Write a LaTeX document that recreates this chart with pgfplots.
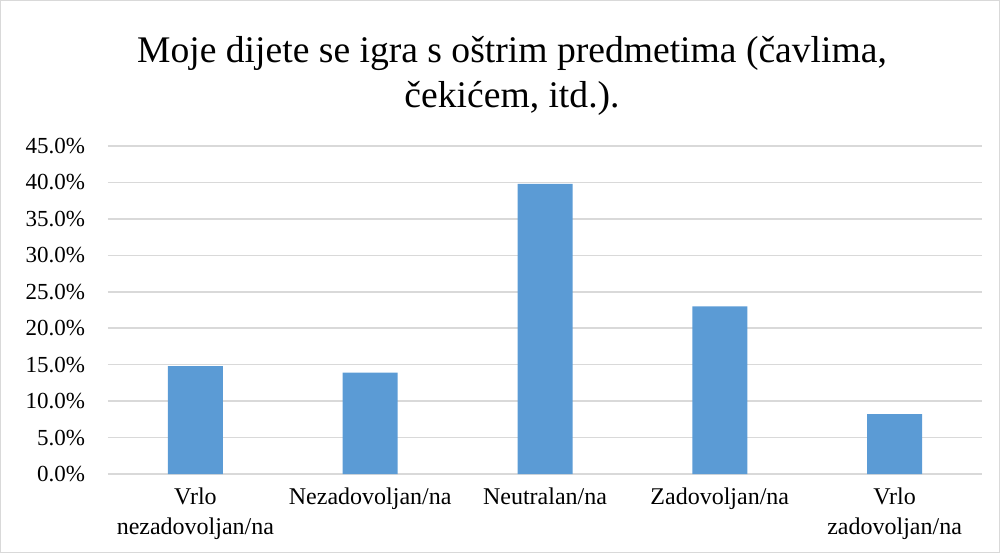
\documentclass[border=0pt]{standalone}
\usepackage{fontspec}
\setmainfont{Liberation Serif}
\usepackage{pgfplots}
\pgfplotsset{compat=1.18}
\definecolor{barblue}{RGB}{91,155,213}
\definecolor{gridgray}{RGB}{217,217,217}
\begin{document}
\begin{tikzpicture}
\draw[gridgray, line width=0.6pt] (0.3pt,0.3pt) rectangle (499.7pt,276.2pt);
\begin{axis}[
  at={(54pt,39.5pt)}, anchor=south west,
  scale only axis, width=437pt, height=164pt,
  xmin=-0.5, xmax=4.5, ymin=0, ymax=45,
  xtick={0,1,2,3,4},
  xticklabels={Vrlo\\nezadovoljan/na, Nezadovoljan/na, Neutralan/na, Zadovoljan/na, Vrlo\\zadovoljan/na},
  xticklabel style={align=center, font=\fontsize{12}{15}\selectfont, anchor=north, yshift=-3.5pt},
  ytick={0,5,...,45},
  yticklabel={\pgfmathprintnumber[fixed,fixed zerofill,precision=1]{\tick}\%},
  yticklabel style={font=\fontsize{11.5}{13}\selectfont, anchor=east, xshift=-8pt},
  /pgf/number format/assume math mode=true,
  major tick length=0pt,
  ymajorgrids, grid style={gridgray, line width=0.75pt},
  axis line style={draw=none},
  ybar, bar width=27.5pt,
  clip=false,
]
\addplot[fill=barblue, draw=none] coordinates {(0,14.8) (1,13.9) (2,39.8) (3,23.0) (4,8.2)};
\end{axis}
\node[align=center, font=\fontsize{18.8}{22.5}\selectfont] at (256pt,238.5pt) {Moje dijete se igra s oštrim predmetima (čavlima,\\čekićem, itd.).};
\end{tikzpicture}
\end{document}
